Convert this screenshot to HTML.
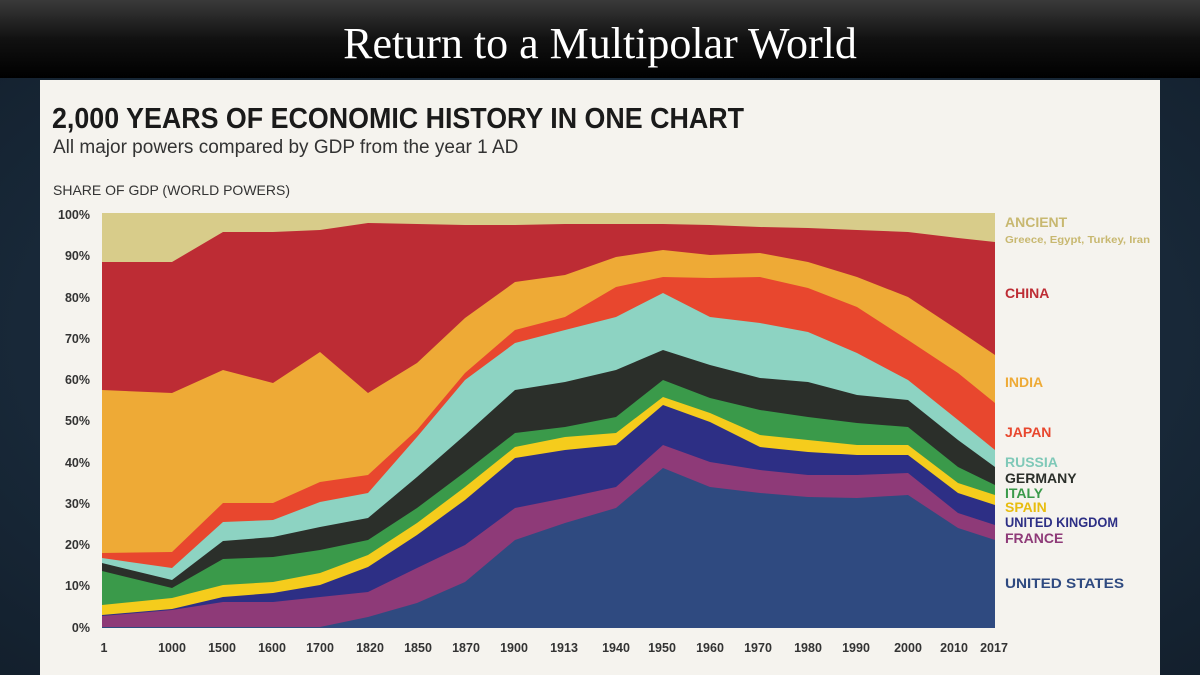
<!DOCTYPE html>
<html><head><meta charset="utf-8"><style>
html,body{margin:0;padding:0;width:1200px;height:675px;overflow:hidden;background:#16202c;}
svg{display:block}
</style></head><body>
<svg width="1200" height="675" viewBox="0 0 1200 675" xmlns="http://www.w3.org/2000/svg">
<defs>
<linearGradient id="bar" x1="0" y1="0" x2="0" y2="1">
<stop offset="0" stop-color="#3a3a3a"/><stop offset="0.5" stop-color="#111"/><stop offset="1" stop-color="#000"/>
</linearGradient>
<radialGradient id="bg" cx="0.5" cy="0.5" r="0.8">
<stop offset="0" stop-color="#223a50"/><stop offset="1" stop-color="#111c28"/>
</radialGradient>
</defs>
<rect width="1200" height="675" fill="url(#bg)"/>
<rect width="1200" height="78" fill="url(#bar)"/>
<text x="600" y="58" text-anchor="middle" font-family="Liberation Serif, serif" font-size="44" fill="#fff">Return to a Multipolar World</text>
<rect x="40" y="80" width="1120" height="595" fill="#f5f3ee"/>
<text x="52" y="128" font-family="Liberation Sans, sans-serif" font-weight="bold" font-size="29" fill="#1a1a1a" textLength="692" lengthAdjust="spacingAndGlyphs">2,000 YEARS OF ECONOMIC HISTORY IN ONE CHART</text>
<text x="53" y="153" font-family="Liberation Sans, sans-serif" font-size="19" fill="#333">All major powers compared by GDP from the year 1 AD</text>
<text x="53" y="195" font-family="Liberation Sans, sans-serif" font-size="14" fill="#333">SHARE OF GDP (WORLD POWERS)</text>
<g font-family="Liberation Sans, sans-serif" font-size="12.5" font-weight="bold" fill="#333" text-anchor="end">
<text x="90" y="219">100%</text><text x="90" y="260">90%</text><text x="90" y="302">80%</text><text x="90" y="343">70%</text><text x="90" y="384">60%</text><text x="90" y="425">50%</text><text x="90" y="467">40%</text><text x="90" y="508">30%</text><text x="90" y="549">20%</text><text x="90" y="590">10%</text><text x="90" y="632">0%</text>
</g>
<rect x="102" y="213" width="893" height="415" fill="#d8cc8a"/>
<polygon fill="#bd2c34" points="102,262 172,262 223,232 273,232 320,230 368,223 417,224 465,225 515,225 565,224 616,224 663,224 710,225 760,227 808,228 857,230 908,232 958,238 995,242 995,628 102,628"/>
<polygon fill="#eeaa36" points="102,390 172,393 223,370 273,383 320,352 368,393 417,363 465,318 515,282 565,275 616,257 663,250 710,255 760,253 808,262 857,277 908,297 958,330 995,355 995,628 102,628"/>
<polygon fill="#e8472e" points="102,553 172,552 223,503 273,503 320,482 368,475 417,430 465,373 515,330 565,317 616,287 663,277 710,278 760,277 808,288 857,307 908,340 958,373 995,403 995,628 102,628"/>
<polygon fill="#8dd3c2" points="102,558 172,568 223,522 273,520 320,502 368,493 417,437 465,380 515,343 565,330 616,317 663,293 710,317 760,323 808,332 857,353 908,380 958,420 995,450 995,628 102,628"/>
<polygon fill="#2b2f2a" points="102,563 172,580 223,541 273,537 320,527 368,518 417,477 465,435 515,390 565,382 616,370 663,350 710,365 760,378 808,382 857,395 908,400 958,440 995,467 995,628 102,628"/>
<polygon fill="#3a9a4a" points="102,571 172,588 223,559 273,557 320,550 368,540 417,508 465,472 515,433 565,427 616,417 663,380 710,398 760,410 808,417 857,423 908,427 958,467 995,485 995,628 102,628"/>
<polygon fill="#f5cc1c" points="102,605 172,598 223,585 273,582 320,573 368,555 417,523 465,487 515,447 565,437 616,433 663,397 710,413 760,435 808,440 857,445 908,445 958,483 995,495 995,628 102,628"/>
<polygon fill="#2d2f85" points="102,615 172,609 223,597 273,593 320,585 368,567 417,535 465,500 515,458 565,450 616,445 663,405 710,422 760,447 808,452 857,455 908,455 958,493 995,505 995,628 102,628"/>
<polygon fill="#8e3a78" points="102,616 172,610 223,602 273,602 320,597 368,592 417,568 465,545 515,508 565,498 616,487 663,445 710,462 760,470 808,475 857,475 908,473 958,513 995,525 995,628 102,628"/>
<polygon fill="#2f4a80" points="102,627 172,627 223,627 273,627 320,627 368,617 417,603 465,582 515,540 565,523 616,508 663,468 710,487 760,493 808,497 857,498 908,495 958,528 995,540 995,628 102,628"/>
<g font-family="Liberation Sans, sans-serif" font-size="12.5" font-weight="bold" fill="#333" text-anchor="middle">
<text x="104" y="652">1</text><text x="172" y="652">1000</text><text x="222" y="652">1500</text><text x="272" y="652">1600</text><text x="320" y="652">1700</text><text x="370" y="652">1820</text><text x="418" y="652">1850</text><text x="466" y="652">1870</text><text x="514" y="652">1900</text><text x="564" y="652">1913</text><text x="616" y="652">1940</text><text x="662" y="652">1950</text><text x="710" y="652">1960</text><text x="758" y="652">1970</text><text x="808" y="652">1980</text><text x="856" y="652">1990</text><text x="908" y="652">2000</text><text x="954" y="652">2010</text><text x="994" y="652">2017</text>
</g>
<g font-family="Liberation Sans, sans-serif" font-size="14" font-weight="bold">
<text x="1005" y="227" fill="#c8b870">ANCIENT</text>
<text x="1005" y="243" fill="#c8b870" font-size="10.5" textLength="145" lengthAdjust="spacingAndGlyphs">Greece, Egypt, Turkey, Iran</text>
<text x="1005" y="298" fill="#bd2c34">CHINA</text>
<text x="1005" y="387" fill="#eeaa36">INDIA</text>
<text x="1005" y="437" fill="#e8472e">JAPAN</text>
<text x="1005" y="467" fill="#7fc9b8">RUSSIA</text>
<text x="1005" y="483" fill="#2b2f2a">GERMANY</text>
<text x="1005" y="498" fill="#3a9a4a">ITALY</text>
<text x="1005" y="512" fill="#e8bd10">SPAIN</text>
<text x="1005" y="527" fill="#2d2f85" textLength="113" lengthAdjust="spacingAndGlyphs">UNITED KINGDOM</text>
<text x="1005" y="543" fill="#8e3a78">FRANCE</text>
<text x="1005" y="588" fill="#2f4a80" textLength="119" lengthAdjust="spacingAndGlyphs">UNITED STATES</text>
</g>
</svg>
</body></html>
